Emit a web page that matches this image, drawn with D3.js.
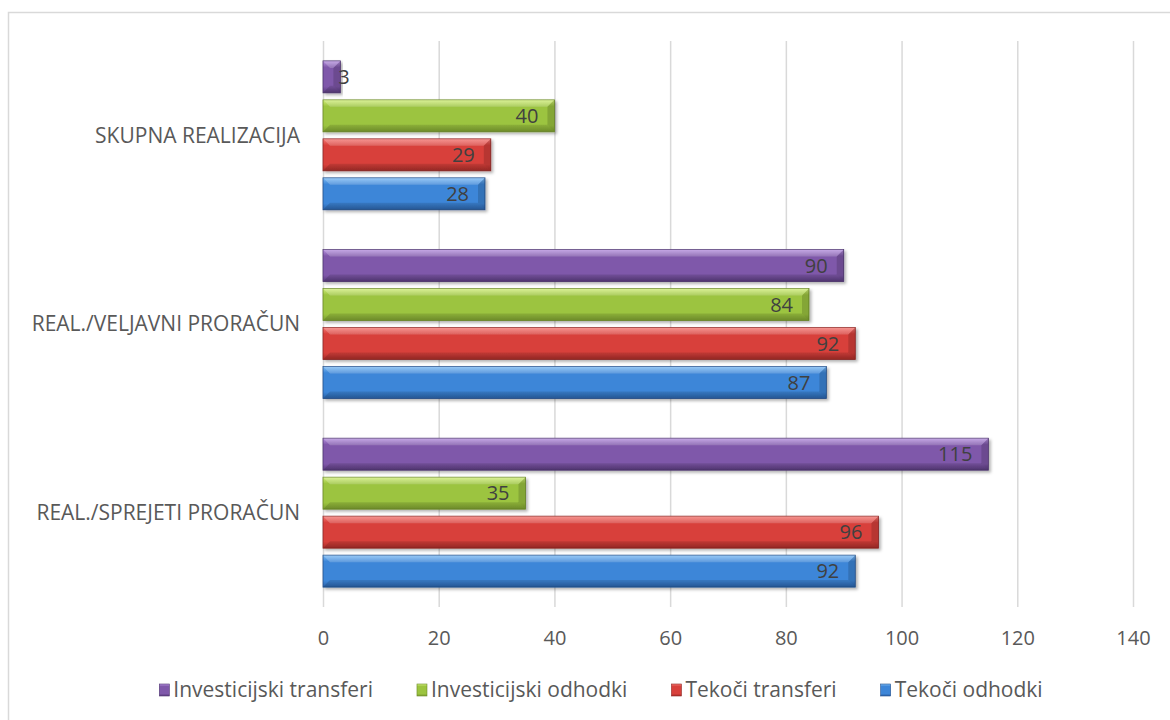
<!DOCTYPE html>
<html><head><meta charset="utf-8">
<script src="https://cdn.jsdelivr.net/npm/d3@7"></script>
<style>body{margin:0;background:#fff}svg{display:block}text{font-family:"Open Sans",sans-serif;fill:#595959}</style>
</head><body><svg id="c" width="1170" height="720"></svg>
<script>
const categories = ["SKUPNA REALIZACIJA", "REAL./VELJAVNI PRORAČUN", "REAL./SPREJETI PRORAČUN"];
const seriesNames = ["Investicijski transferi", "Investicijski odhodki", "Tekoči transferi", "Tekoči odhodki"];
const investicijskiTransferi = [3, 90, 115];
const investicijskiOdhodki = [40, 84, 35];
const tekociTransferi = [29, 92, 96];
const tekociOdhodki = [28, 87, 92];
const xTicks = [0, 20, 40, 60, 80, 100, 120, 140];
const seriesValues = [investicijskiTransferi, investicijskiOdhodki, tekociTransferi, tekociOdhodki];
const palette = [
  {top:"#b893e0", mid:"#7f58aa", bot:"#5a3c7e", edge:"#4e3470"},
  {top:"#d2ef7c", mid:"#9cc43f", bot:"#7c9e30", edge:"#6c8a28"},
  {top:"#f57b76", mid:"#d8403b", bot:"#a82d29", edge:"#8e2522"},
  {top:"#7fbdf5", mid:"#3d86d8", bot:"#2a62a8", edge:"#234f8a"}
];

const svg = d3.select("#c");
const defs = svg.append("defs");
palette.forEach((p,i)=>{
  const g = defs.append("linearGradient").attr("id","g"+i).attr("x1",0).attr("y1",0).attr("x2",0).attr("y2",1);
  g.append("stop").attr("offset","0").attr("stop-color",p.top);
  g.append("stop").attr("offset","0.2").attr("stop-color",p.mid);
  g.append("stop").attr("offset","0.8").attr("stop-color",p.mid);
  g.append("stop").attr("offset","1").attr("stop-color",p.bot);
});
const f = defs.append("filter").attr("id","sh").attr("x","-5%").attr("y","-20%").attr("width","115%").attr("height","160%");
f.append("feDropShadow").attr("dx",2).attr("dy",2).attr("stdDeviation",1.5).attr("flood-color","#000").attr("flood-opacity",0.3);

// frame
svg.append("path").attr("d","M8.5,720 V12.5 H1170").attr("fill","none").attr("stroke","#d9d9d9").attr("stroke-width",1.5);

const x = d3.scaleLinear().domain([0,140]).range([323,1133]);
const y = d3.scaleBand().domain(categories).range([41,607]);
const y1 = d3.scaleBand().domain(seriesNames).range([0,y.bandwidth()]).paddingInner(0.18).paddingOuter(0.51);

// gridlines
svg.append("g").selectAll("line").data(xTicks).join("line")
  .attr("x1",d=>x(d)+0.5).attr("x2",d=>x(d)+0.5).attr("y1",41).attr("y2",607)
  .attr("stroke","#d9d9d9").attr("stroke-width",1.5);

// axis labels
const xAxis = d3.axisBottom(x).tickValues(xTicks).tickSize(0).tickPadding(0);
const ax = svg.append("g").attr("transform","translate(0,645)").call(xAxis);
ax.select(".domain").remove();
ax.selectAll("text").attr("dy",0).attr("font-size","20px").style("font-family","'Open Sans',sans-serif").attr("fill","#595959");

// category labels
const yAxis = d3.axisLeft(y).tickSize(0).tickPadding(0);
const ay = svg.append("g").attr("transform","translate(300,0)").call(yAxis);
ay.select(".domain").remove();
ay.selectAll("text").attr("font-size","21px").style("font-family","'Open Sans',sans-serif").attr("fill","#595959").attr("dy","0.35em");

// bars
const data = [];
categories.forEach((c,ci)=>seriesNames.forEach((s,si)=>data.push({c,s,si,v:seriesValues[si][ci]})));
const bars = svg.append("g");
bars.selectAll("rect").data(data).join("rect")
  .attr("x",x(0)).attr("y",d=>y(d.c)+y1(d.s)).attr("width",d=>x(d.v)-x(0)).attr("height",y1.bandwidth())
  .attr("fill",d=>`url(#g${d.si})`).attr("stroke",d=>palette[d.si].edge).attr("stroke-width",0.8)
  .attr("filter","url(#sh)");
// bevel corners
bars.selectAll("path.bev").data(data).join("path").attr("class","bev")
  .attr("d",d=>{
    const x0=x(0), x1=x(d.v), y0=y(d.c)+y1(d.s), b=Math.min(7,(x1-x0)/2);
    return `M${x0},${y0}L${x0+b},${y0+b}L${x1-b},${y0+b}L${x1},${y0}Z`;
  }).attr("fill","#fff").attr("opacity",0.2);
bars.selectAll("path.bev2").data(data).join("path").attr("class","bev2")
  .attr("d",d=>{
    const x0=x(0), x1=x(d.v), y0=y(d.c)+y1(d.s), h=y1.bandwidth(), b=Math.min(7,(x1-x0)/2);
    return `M${x0},${y0+h}L${x0+b},${y0+h-b}L${x1-b},${y0+h-b}L${x1},${y0+h}Z`;
  }).attr("fill","#000").attr("opacity",0.12);
bars.selectAll("path.bev3").data(data).join("path").attr("class","bev3")
  .attr("d",d=>{
    const x0=x(0), x1=x(d.v), y0=y(d.c)+y1(d.s), h=y1.bandwidth(), b=Math.min(7,(x1-x0)/2);
    return `M${x1},${y0}L${x1-b},${y0+b}L${x1-b},${y0+h-b}L${x1},${y0+h}Z`;
  }).attr("fill","#000").attr("opacity",0.15);

// labels
svg.append("g").selectAll("text").data(data).join("text")
  .attr("x",d=>{const w=x(d.v)-x(0); return w<30? x(d.v)-2 : x(d.v)-16;})
  .attr("text-anchor",d=>(x(d.v)-x(0))<30?"start":"end")
  .attr("y",d=>y(d.c)+y1(d.s)+y1.bandwidth()/2).attr("dy","0.36em")
  .attr("font-size","20px").style("fill","#404040").text(d=>d.v);

// legend
const lg = svg.append("g");
const legendY = 690;
const items = seriesNames.map((s,i)=>({s,i}));
const tmp = lg.append("text").attr("font-size","21px");
const widths = items.map(it=>{tmp.text(it.s); return tmp.node().getComputedTextLength();});
tmp.remove();
const gap = 44, mk = 14;
const total = d3.sum(widths) + items.length*mk + (items.length-1)*gap;
let cx = 601 - total/2;
items.forEach((it,i)=>{
  lg.append("rect").attr("x",cx).attr("y",legendY-6).attr("width",10).attr("height",12)
    .attr("fill",`url(#g${i})`).attr("stroke",palette[i].edge).attr("stroke-width",0.6);
  lg.append("text").attr("x",cx+mk).attr("y",legendY).attr("dy","0.35em").attr("font-size","21px").text(it.s);
  cx += mk + widths[i] + gap;
});
</script></body></html>
